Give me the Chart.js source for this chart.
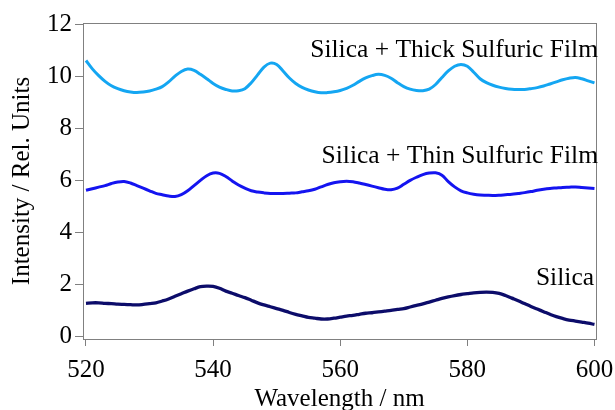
<!DOCTYPE html>
<html>
<head>
<meta charset="utf-8">
<script src="https://cdn.jsdelivr.net/npm/chart.js@4.4.1/dist/chart.umd.min.js"></script>
<style>
  html, body { margin: 0; padding: 0; background: #fff; }
  canvas { display: block; }
</style>
</head>
<body>
<canvas id="chart" width="615" height="410"></canvas>
<script>
// wavelength (nm), one reading per nm
var wavelength = [
  520, 521, 522, 523, 524, 525, 526, 527, 528, 529,
  530, 531, 532, 533, 534, 535, 536, 537, 538, 539,
  540, 541, 542, 543, 544, 545, 546, 547, 548, 549,
  550, 551, 552, 553, 554, 555, 556, 557, 558, 559,
  560, 561, 562, 563, 564, 565, 566, 567, 568, 569,
  570, 571, 572, 573, 574, 575, 576, 577, 578, 579,
  580, 581, 582, 583, 584, 585, 586, 587, 588, 589,
  590, 591, 592, 593, 594, 595, 596, 597, 598, 599, 600
];

var thickFilm = [
  10.6, 10.28, 10.02, 9.8, 9.63, 9.52, 9.44, 9.39, 9.37, 9.39,
  9.43, 9.5, 9.6, 9.78, 10.0, 10.18, 10.27, 10.22, 10.07, 9.9,
  9.72, 9.58, 9.49, 9.43, 9.44, 9.52, 9.75, 10.05, 10.35, 10.5,
  10.45, 10.2, 9.93, 9.72, 9.57, 9.47, 9.4, 9.36, 9.37, 9.4,
  9.45, 9.53, 9.65, 9.8, 9.93, 10.02, 10.07, 10.03, 9.92, 9.75,
  9.6, 9.5, 9.45, 9.44, 9.5, 9.68, 9.95, 10.2, 10.38, 10.45,
  10.38, 10.15, 9.9, 9.75, 9.65, 9.58, 9.53, 9.5, 9.49, 9.49,
  9.52, 9.56, 9.62, 9.7, 9.78, 9.86, 9.92, 9.95, 9.9, 9.82, 9.74
];

var thinFilm = [
  5.62, 5.68, 5.74, 5.8, 5.88, 5.94, 5.96, 5.9, 5.8, 5.7,
  5.6, 5.5, 5.45, 5.4, 5.38, 5.45, 5.6, 5.8, 6.0, 6.18,
  6.28, 6.27, 6.15, 5.98, 5.82, 5.7, 5.6, 5.55, 5.52, 5.5,
  5.5, 5.5, 5.51, 5.52, 5.56, 5.6, 5.66, 5.75, 5.84, 5.91,
  5.95, 5.97, 5.95, 5.9, 5.84, 5.78, 5.72, 5.66, 5.64, 5.7,
  5.85, 6.0, 6.12, 6.22, 6.28, 6.29, 6.2, 5.95, 5.75, 5.6,
  5.52, 5.47, 5.44, 5.43, 5.42, 5.43, 5.45, 5.47, 5.5, 5.53,
  5.57, 5.62, 5.66, 5.69, 5.71, 5.73, 5.74, 5.75, 5.73, 5.71, 5.69
];

var silica = [
  1.28, 1.3, 1.3, 1.28, 1.27, 1.25, 1.24, 1.23, 1.22, 1.24,
  1.27, 1.3, 1.37, 1.45, 1.55, 1.65, 1.75, 1.84, 1.92, 1.94,
  1.93, 1.86, 1.75, 1.67, 1.58, 1.5, 1.4, 1.3, 1.22, 1.15,
  1.08, 1.01, 0.93, 0.86, 0.8, 0.74, 0.71, 0.68, 0.68, 0.71,
  0.75, 0.79, 0.82, 0.86, 0.9, 0.92, 0.95, 0.98, 1.01, 1.05,
  1.08, 1.14, 1.2, 1.26, 1.33, 1.4, 1.47, 1.53, 1.58, 1.62,
  1.65, 1.68, 1.7, 1.71, 1.7, 1.66, 1.58, 1.48, 1.38, 1.27,
  1.16, 1.06, 0.96, 0.86, 0.77, 0.7, 0.64, 0.6, 0.56, 0.52, 0.47
];

var xTicks = [520, 540, 560, 580, 600];
var yTicks = [0, 2, 4, 6, 8, 10, 12];
var seriesNames = ["Silica + Thick Sulfuric Film", "Silica + Thin Sulfuric Film", "Silica"];

var serif = "'Liberation Serif', 'Times New Roman', serif";
var frameColor = "#808080";

let toPoints = (ys) => {
    return wavelength.map((w, i) => ({ x: w, y: ys[i] }));
}

// frame round the plot + the text labels at the right of each curve
var framePlugin = {
    id: "frame",
    afterDraw(chart) {
        var ctx = chart.ctx;
        var a = chart.chartArea;
        var xs = chart.scales.x, ys = chart.scales.y;
        ctx.save();
        ctx.strokeStyle = frameColor;
        ctx.lineWidth = 1;
        ctx.strokeRect(a.left + 0.5, a.top + 0.5, a.right - a.left, a.bottom - a.top);

        ctx.fillStyle = "#000";
        ctx.font = "25.5px " + serif;
        ctx.textAlign = "right";
        ctx.textBaseline = "alphabetic";
        ctx.fillText(seriesNames[0], a.right + 2, ys.getPixelForValue(10.73));
        ctx.fillText(seriesNames[1], a.right + 2, ys.getPixelForValue(6.67));
        ctx.fillText(seriesNames[2], xs.getPixelForValue(599.77) + 1, ys.getPixelForValue(1.98));
        ctx.restore();
    }
};

let chart = new Chart(document.getElementById("chart"), {
    type: "line",
    data: {
        datasets: [{
            label: seriesNames[0],
            data: toPoints(thickFilm),
            borderColor: "#14a6f2",
            borderWidth: 3,
            pointRadius: 0,
            tension: 0.35,
            fill: false
        }, {
            label: seriesNames[1],
            data: toPoints(thinFilm),
            borderColor: "#1414f0",
            borderWidth: 3,
            pointRadius: 0,
            tension: 0.35,
            fill: false
        }, {
            label: seriesNames[2],
            data: toPoints(silica),
            borderColor: "#0c0c6a",
            borderWidth: 3.3,
            pointRadius: 0,
            tension: 0.35,
            fill: false
        }]
    },
    options: {
        responsive: false,
        animation: false,
        events: [],
        layout: { padding: { top: 23, right: 19, left: 0, bottom: 0 } },
        plugins: {
            legend: { display: false },
            tooltip: { enabled: false }
        },
        scales: {
            x: {
                type: "linear",
                min: 519.53,
                max: 600.24,
                afterBuildTicks: (s) => { s.ticks = xTicks.map(v => ({ value: v })); },
                afterFit: (s) => {
                    s.height = 71;
                    s.paddingLeft = 0;
                    s.paddingRight = 0;
                },
                border: { display: false },
                grid: {
                    drawOnChartArea: false,
                    drawTicks: true,
                    tickLength: 7,
                    tickColor: frameColor
                },
                ticks: {
                    color: "#000",
                    font: { family: serif, size: 25 },
                    padding: 9,
                    maxRotation: 0,
                    autoSkip: false
                },
                title: {
                    display: true,
                    text: "Wavelength / nm",
                    color: "#000",
                    font: { family: serif, size: 25 },
                    padding: { top: 0, bottom: -4 }
                }
            },
            y: {
                min: -0.088,
                max: 12.04,
                afterBuildTicks: (s) => { s.ticks = yTicks.map(v => ({ value: v })); },
                afterFit: (s) => {
                    s.width = 83;
                    s.paddingTop = 0;
                    s.paddingBottom = 0;
                },
                border: { display: false },
                grid: {
                    drawOnChartArea: false,
                    drawTicks: true,
                    tickLength: 8,
                    tickColor: frameColor
                },
                ticks: {
                    color: "#000",
                    font: { family: serif, size: 25 },
                    padding: 3,
                    autoSkip: false
                },
                title: {
                    display: true,
                    text: "Intensity / Rel. Units",
                    color: "#000",
                    font: { family: serif, size: 25 },
                    padding: { top: 7, bottom: 0 }
                }
            }
        }
    },
    plugins: [framePlugin]
});
</script>
</body>
</html>
